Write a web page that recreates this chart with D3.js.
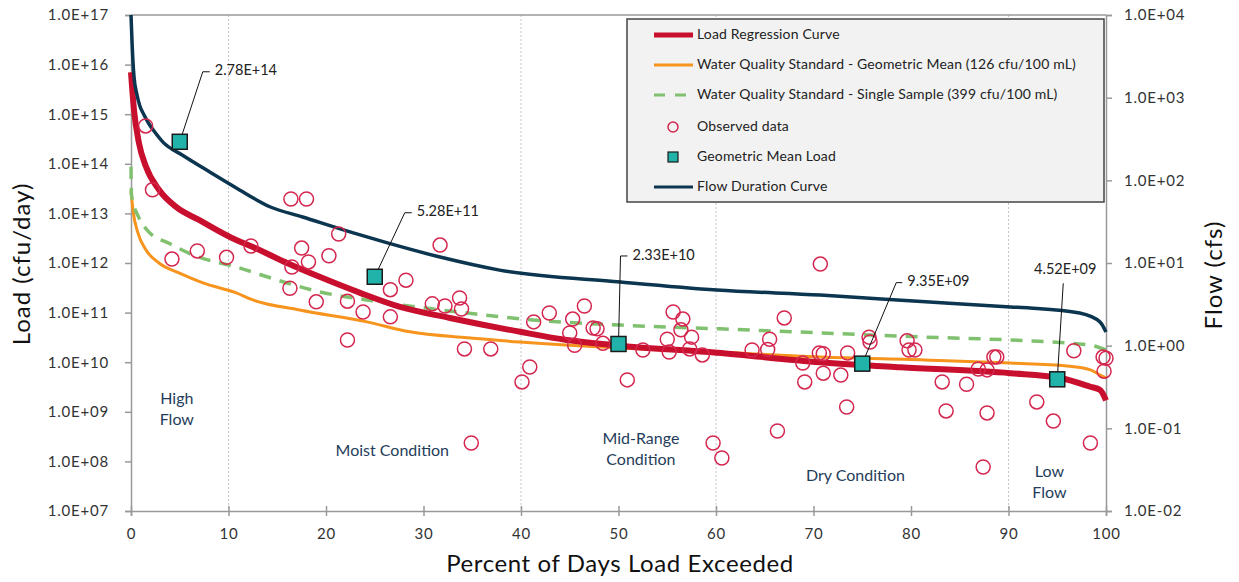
<!DOCTYPE html>
<html><head><meta charset="utf-8">
<script src="https://cdn.jsdelivr.net/npm/d3@7"></script>
<style>
body{margin:0;background:#fff}
svg text{font-family:Lato,"Open Sans",sans-serif}
</style>
</head><body>
<svg id="chart" width="1239" height="582"></svg>
<script>
// ---------- DATA ----------
const xTicks = [0,10,20,30,40,50,60,70,80,90,100];
const xTickLabels = ["0","10","20","30","40","50","60","70","80","90","100"];
const leftTicks = [1e7,1e8,1e9,1e10,1e11,1e12,1e13,1e14,1e15,1e16,1e17];
const leftTickLabels = ["1.0E+07","1.0E+08","1.0E+09","1.0E+10","1.0E+11","1.0E+12","1.0E+13","1.0E+14","1.0E+15","1.0E+16","1.0E+17"];
const rightTicks = [1e-2,1e-1,1e0,1e1,1e2,1e3,1e4];
const rightTickLabels = ["1.0E-02","1.0E-01","1.0E+00","1.0E+01","1.0E+02","1.0E+03","1.0E+04"];
const gridLines = [10,40,60,90];

// Flow duration curve (cfs, right axis)
const flowPct = [0,0.12,0.31,0.6,0.9,1.3,1.85,2.36,3.28,5.33,8.0,10.8,14.3,17.6,22.8,26.3,31.7,37.8,50.2,60.1,70.7,81.9,90.2,92.2,97.3,99.4,100];
const flowCfs = [10000,4300,1780,1100,800,630,480,395,290,200,128,81,47.6,36,23.1,17.5,11.8,8.2,5.9,4.72,4.1,3.37,2.94,2.86,2.48,1.93,1.46];

// Load regression curve (cfu/day)
const regPct = [0,0.31,0.82,1.54,2.87,4.62,6.97,10.8,12.5,16.0,19.4,23.5,27.6,32.7,39.9,44.7,50.2,60.1,70.7,78.9,90.2,95.3,98.4,99.4,100];
const regLoad = [7e15,1.2e15,2.6e14,8.7e13,3.0e13,1.35e13,7.4e12,2.9e12,2.1e12,1.0e12,5.2e11,2.5e11,1.3e11,7.8e10,4.1e10,2.8e10,2.15e10,1.55e10,1.0e10,7.9e9,6.0e9,4.8e9,3.2e9,2.75e9,1.7e9];

// WQS geometric mean (126 cfu/100 mL)
const gmPct = [0,0.2,0.72,1.54,2.87,4.92,7.38,10.8,12.5,17.3,24.2,28.6,34.5,39.9,50.2,60.1,70.7,81.9,90.2,96,98.4,99.4,100];
const gmLoad = [2.9e13,1.17e13,4.0e12,1.83e12,1.0e12,6.3e11,3.96e11,2.5e11,1.8e11,1.13e11,6.5e10,4.1e10,3.1e10,2.55e10,1.93e10,1.6e10,1.27e10,1.1e10,9.6e9,8.4e9,7.0e9,5.5e9,4.8e9];

// WQS single sample (399 cfu/100 mL)
const ssPct = [0,0.05,0.82,1.85,3.9,6.36,10.8,16.0,19.4,24.2,29.3,34.5,41.2,50.2,60.4,70.7,81.6,90.2,98.4,100];
const ssLoad = [8.7e13,2.35e13,8.1e12,4.2e12,2.5e12,1.45e12,8.3e11,3.96e11,2.6e11,1.8e11,1.3e11,9.8e10,7.1e10,5.6e10,4.7e10,3.9e10,3.2e10,2.8e10,2.2e10,1.76e10];

// Observed data
const obsPct = [1.5,2.2,4.2,6.8,9.8,12.3,16.4,18.0,17.5,18.2,16.5,16.3,20.3,21.3,19.0,22.2,23.8,26.6,28.2,26.6,22.2,30.9,32.2,33.7,33.9,31.7,34.2,34.9,36.9,40.1,40.9,41.3,42.9,45.3,46.5,45.0,45.5,47.4,47.8,48.4,50.9,52.5,55.6,56.6,56.4,55.0,55.2,57.5,57.3,58.6,59.7,60.6,63.7,65.3,65.5,67.0,66.3,70.7,68.9,69.1,70.6,71.0,71.0,72.8,73.5,73.4,75.7,75.8,79.6,79.8,80.4,83.2,85.7,83.6,87.8,86.9,87.8,88.5,88.8,87.4,92.9,94.6,96.7,98.4,99.7,100,99.8];
const obsLoad = [5.8e14,3.0e13,1.2e12,1.75e12,1.3e12,2.2e12,1.95e13,1.95e13,2.0e12,1.05e12,8.3e11,3.1e11,1.4e12,3.85e12,1.65e11,1.7e11,1.03e11,2.9e11,4.5e11,8.2e10,2.8e10,1.5e11,1.36e11,1.97e11,1.18e11,2.3e12,1.85e10,2.35e8,1.85e10,4.0e9,8.0e9,6.5e10,9.8e10,7.4e10,1.36e11,3.9e10,2.2e10,4.9e10,4.7e10,2.4e10,4.4e9,1.76e10,1.03e11,7.4e10,4.5e10,2.9e10,1.6e10,3.2e10,1.85e10,1.4e10,2.35e8,1.17e8,1.76e10,1.8e10,2.9e10,7.8e10,4.1e8,9.5e11,9.6e9,4.0e9,1.53e10,1.48e10,6.0e9,5.5e9,1.53e10,1.25e9,3.2e10,2.55e10,2.7e10,1.76e10,1.76e10,4.0e9,3.6e9,1.04e9,9.5e8,7.3e9,7.0e9,1.27e10,1.27e10,7.7e7,1.58e9,6.5e8,1.7e10,2.35e8,1.27e10,1.2e10,6.6e9];

// Geometric mean loads
const geoPct = [5,25,50,75,95];
const geoLoad = [2.78e14,5.28e11,2.33e10,9.35e9,4.52e9];
const geoLabels = ["2.78E+14","5.28E+11","2.33E+10","9.35E+09","4.52E+09"];

// Flow condition zones
const zoneNames = [["High","Flow"],["Moist Condition"],["Mid-Range","Condition"],["Dry Condition"],["Low","Flow"]];

const legendLabels = ["Load Regression Curve","Water Quality Standard - Geometric Mean (126 cfu/100 mL)","Water Quality Standard - Single Sample (399 cfu/100 mL)","Observed data","Geometric Mean Load","Flow Duration Curve"];

// ---------- STYLE / LAYOUT ----------
const C = {red:"#c8102e", orange:"#f7941d", green:"#80c170", navy:"#0c3550", teal:"#21b2aa", circle:"#d4264f", text:"#222", zone:"#1f3d5a", axis:"#999"};
const M = {left:131, right:1106, top:15, bottom:511};

const svg = d3.select("#chart");
const x = d3.scaleLinear().domain([0,100]).range([M.left,M.right]);
const yL = d3.scaleLog().domain([1e7,1e17]).range([M.bottom,M.top]);
const yR = d3.scaleLog().domain([1e-2,1e4]).range([M.bottom,M.top]);

// gridlines
svg.append("g").selectAll("line").data(gridLines).join("line")
  .attr("x1",d=>x(d)).attr("x2",d=>x(d)).attr("y1",M.top).attr("y2",M.bottom)
  .attr("stroke","#c4c4c4").attr("stroke-width",1).attr("stroke-dasharray","2,2");

// top border
svg.append("line").attr("x1",M.left).attr("x2",M.right).attr("y1",M.top).attr("y2",M.top)
  .attr("stroke",C.axis).attr("stroke-width",1.5);

// axes
function styleAxis(g){
  g.select(".domain").attr("stroke",C.axis).attr("stroke-width",1.5);
  g.selectAll(".tick line").attr("stroke",C.axis).attr("stroke-width",1.5);
  g.selectAll(".tick text").attr("fill","#333").style("font-size","15px").style("letter-spacing","0.8px");
}
const gx = svg.append("g").attr("transform",`translate(0,${M.bottom})`)
  .call(d3.axisBottom(x).tickValues(xTicks).tickFormat((d,i)=>xTickLabels[i]).tickSizeOuter(0).tickSize(5).tickPadding(12));
styleAxis(gx);
gx.selectAll(".tick line").attr("y1",-5).attr("y2",5);

const gl = svg.append("g").attr("transform",`translate(${M.left},0)`)
  .call(d3.axisLeft(yL).tickValues(leftTicks).tickFormat((d,i)=>leftTickLabels[i]).tickSizeOuter(0).tickSize(6).tickPadding(16));
styleAxis(gl);

const gr = svg.append("g").attr("transform",`translate(${M.right},0)`)
  .call(d3.axisRight(yR).tickValues(rightTicks).tickFormat((d,i)=>rightTickLabels[i]).tickSizeOuter(0).tickSize(6).tickPadding(12));
styleAxis(gr);

// axis titles
svg.append("text").attr("transform",`translate(30,264) rotate(-90)`).attr("text-anchor","middle")
  .attr("fill","#111").style("font-size","24px").style("letter-spacing","1px").text("Load (cfu/day)");
svg.append("text").attr("transform",`translate(1222,275) rotate(-90)`).attr("text-anchor","middle")
  .attr("fill","#111").style("font-size","24px").style("letter-spacing","1px").text("Flow (cfs)");
svg.append("text").attr("x",620).attr("y",572).attr("text-anchor","middle")
  .attr("fill","#111").style("font-size","24px").style("letter-spacing","0.6px").text("Percent of Days Load Exceeded");

// curves
const lineL = (ps,vs)=>d3.line().x((d,i)=>x(ps[i])).y((d,i)=>yL(vs[i])).curve(d3.curveMonotoneX)(vs);
const lineR = (ps,vs)=>d3.line().x((d,i)=>x(ps[i])).y((d,i)=>yR(vs[i])).curve(d3.curveMonotoneX)(vs);

svg.append("path").attr("d",lineL(gmPct,gmLoad)).attr("fill","none").attr("stroke",C.orange).attr("stroke-width",3);
svg.append("path").attr("d",lineL(ssPct,ssLoad)).attr("fill","none").attr("stroke",C.green).attr("stroke-width",3.5).attr("stroke-dasharray","12,9");
svg.append("path").attr("d",lineL(regPct,regLoad)).attr("fill","none").attr("stroke",C.red).attr("stroke-width",6);
svg.append("path").attr("d",lineR(flowPct,flowCfs)).attr("fill","none").attr("stroke",C.navy).attr("stroke-width",3.5);

// observed
svg.append("g").selectAll("circle").data(obsLoad).join("circle")
  .attr("cx",(d,i)=>x(obsPct[i])).attr("cy",d=>yL(d)).attr("r",7)
  .attr("fill","none").attr("stroke",C.circle).attr("stroke-width",1.5);

// annotation offsets (elbow dx, dy, horizontal run)
const annOff = [[23,-70,7],[30,-64,7],[2,-88,7],[34,-81,6],[6,-96,0]];
const ann = svg.append("g");
geoPct.forEach((p,i)=>{
  const sx = x(p), sy = yL(geoLoad[i]);
  const [dx,dy,h] = annOff[i];
  const pts = [[sx,sy],[sx+dx,sy+dy],[sx+dx+h,sy+dy]];
  ann.append("path").attr("d",d3.line()(pts)).attr("fill","none").attr("stroke","#111").attr("stroke-width",1);
  const t = ann.append("text").attr("fill",C.text).style("font-size","14.5px").attr("dominant-baseline","middle").text(geoLabels[i]);
  if(h>0) t.attr("x",sx+dx+h+5).attr("y",sy+dy);
  else t.attr("x",sx+dx+2).attr("y",sy+dy-13).attr("text-anchor","middle");
});

// squares
svg.append("g").selectAll("rect").data(geoLoad).join("rect")
  .attr("x",(d,i)=>x(geoPct[i])-7.5).attr("y",d=>yL(d)-7.5).attr("width",15).attr("height",15)
  .attr("fill",C.teal).attr("stroke","#1a1a1a").attr("stroke-width",1.5);

// zone labels
const zoneX = [4.7,26.8,52.3,74.3,94.2];
const zoneY = [400,452,440,477,473];
zoneNames.forEach((lines,i)=>{
  lines.forEach((s,j)=>{
    svg.append("text").attr("x",x(zoneX[i])).attr("y",zoneY[i]+j*21).attr("text-anchor","middle")
      .attr("dominant-baseline","middle").attr("fill",C.zone).style("font-size","16px").text(s);
  });
});

// legend
const lg = svg.append("g");
lg.append("rect").attr("x",627).attr("y",19).attr("width",477).attr("height",183)
  .attr("fill","#f2f2f2").attr("stroke","#444").attr("stroke-width",1.5);
const rowY = [35,65,95,127,157,187];
const lx0 = 654, lx1 = 693;
lg.append("line").attr("x1",lx0).attr("x2",lx1).attr("y1",rowY[0]).attr("y2",rowY[0]).attr("stroke",C.red).attr("stroke-width",5);
lg.append("line").attr("x1",lx0).attr("x2",lx1).attr("y1",rowY[1]).attr("y2",rowY[1]).attr("stroke",C.orange).attr("stroke-width",3);
lg.append("line").attr("x1",lx0).attr("x2",lx1).attr("y1",rowY[2]).attr("y2",rowY[2]).attr("stroke",C.green).attr("stroke-width",3).attr("stroke-dasharray","11,10");
lg.append("circle").attr("cx",673).attr("cy",rowY[3]).attr("r",5).attr("fill","none").attr("stroke",C.circle).attr("stroke-width",1.5);
lg.append("rect").attr("x",668).attr("y",rowY[4]-5).attr("width",10).attr("height",10).attr("fill",C.teal).attr("stroke","#1a1a1a").attr("stroke-width",1.2);
lg.append("line").attr("x1",lx0).attr("x2",lx1).attr("y1",rowY[5]).attr("y2",rowY[5]).attr("stroke",C.navy).attr("stroke-width",3);
legendLabels.forEach((s,i)=>{
  lg.append("text").attr("x",697).attr("y",rowY[i]).attr("dominant-baseline","middle")
    .attr("fill",C.text).style("font-size","14px").style("letter-spacing","0.15px").text(s);
});
</script>
</body></html>
